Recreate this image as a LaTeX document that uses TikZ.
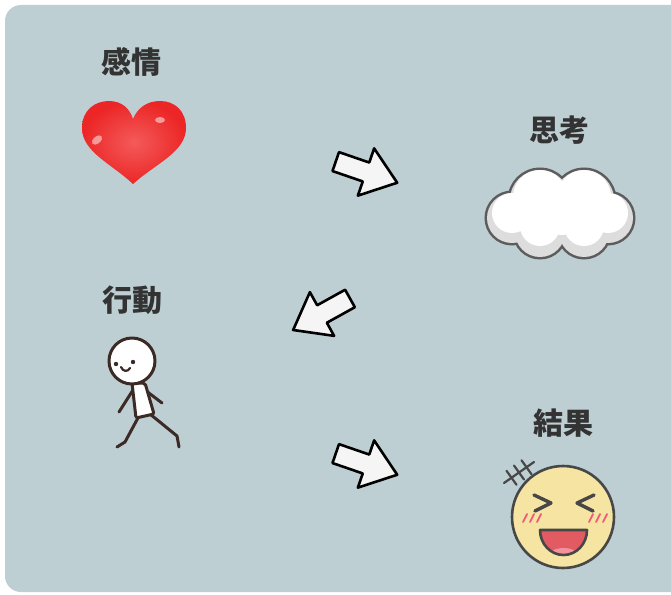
\documentclass[tikz,border=0pt]{standalone}
\usepackage{fontspec}
\newfontfamily\cjk{Noto Sans CJK JP}
\usetikzlibrary{positioning, calc}

\definecolor{panel}{HTML}{BDCFD3}
\definecolor{ink}{HTML}{333333}
\definecolor{heartred}{HTML}{EC2626}
\definecolor{heartlight}{HTML}{F45A5A}
\definecolor{cloudline}{HTML}{5C5C5C}
\definecolor{cloudshade}{HTML}{DDDDDD}
\definecolor{figline}{HTML}{3B2A26}
\definecolor{faceyellow}{HTML}{F6E5A2}
\definecolor{faceline}{HTML}{474747}
\definecolor{blush}{HTML}{EE5A78}
\definecolor{mouthred}{HTML}{E25B62}
\definecolor{tongue}{HTML}{F2939B}

\begin{document}
\begin{tikzpicture}[x=1pt, y=-1pt]
   \tikzstyle{titletext} = [font=\cjk\bfseries\fontsize{30}{30}\selectfont, text=ink, inner sep=0pt]
   \tikzstyle{blockarrow} = [draw=black, line width=2.6pt, fill=white!96!black, line join=round]
   \tikzstyle{stickline} = [draw=figline, line width=3pt, line cap=round, line join=round]
   \tikzstyle{faceedge} = [draw=faceline, line width=2.6pt, line cap=round, line join=round]

   \useasboundingbox (0,0) rectangle (671,594);
   \fill[white] (0,0) rectangle (671,594);
   \fill[panel, rounded corners=16pt] (5,5) rectangle (700,592);

   % titles
   \foreach \name/\txt/\x/\y in {feel/感情/131/62, think/思考/559/130, act/行動/132/300, result/結果/563/423}
   {
      \node[titletext] (\name) at (\x,\y) {\txt};
   }

   % heart
   \shade[inner color=heartlight, outer color=heartred]
      (133,184) .. controls (112,164) and (82,152) .. (82,128)
      .. controls (82,110) and (95,101) .. (109,101)
      .. controls (122,101) and (130,109) .. (133,119)
      .. controls (137,109) and (146,101) .. (160,101)
      .. controls (175,101) and (186,111) .. (186,128)
      .. controls (186,152) and (155,164) .. (133,184) -- cycle;
   \fill[white, opacity=0.5, rotate around={40:(97,140)}] (97,140) ellipse (6pt and 3.5pt);
   \fill[white, opacity=0.5] (160,120) ellipse (5pt and 3pt);

   % cloud
   \def\cloudparts{(540,200) circle (30pt) (584,200) circle (30pt) (512,218) circle (25pt)
      (608,218) circle (25pt) (540,232) circle (25pt) (584,232) circle (25pt) (562,215) circle (28pt)}
   \draw[cloudline, line width=5pt] \cloudparts;
   \fill[cloudshade] \cloudparts;
   \fill[white] (540,197) circle (27pt) (584,197) circle (27pt) (512,213) circle (20pt)
      (608,213) circle (20pt) (540,226) circle (20pt) (584,226) circle (20pt) (562,210) circle (25pt);

   % block arrows
   \foreach \x/\y/\ang in {366/172/-19, 322/314/209, 366/464/-19}
   {
      \draw[blockarrow, shift={(\x,\y)}, rotate=\ang]
         (-32,10) -- (0,10) -- (0,25) -- (33,0) -- (0,-25) -- (0,-10) -- (-32,-10) -- cycle;
   }

   % walking figure
   \draw[stickline] (133,390) -- (119,412);
   \draw[stickline] (145,390) -- (162,403);
   \draw[stickline] (139,416) -- (125,442) -- (117,447);
   \draw[stickline] (150,414) -- (177,436) -- (179,447);
   \draw[stickline, fill=white, rounded corners=2pt] (132,383) -- (136,418) -- (154,414) -- (145,383) -- cycle;
   \draw[stickline, fill=white] (132,361) circle (23pt);
   \fill[figline] (116,364) circle (2.2pt) (133,362) circle (2.2pt);
   \draw[stickline, line width=2.2pt] (121,367) .. controls (123,372) and (128,372) .. (130,368);

   % laughing face
   \draw[faceedge, line width=2.2pt] (504,483) -- (534,462);
   \foreach \t in {0.25, 0.5, 0.75}
   {
      \draw[faceedge, line width=2.2pt] ($(504,483)!\t!(534,462) + (-5,-7)$) -- ($(504,483)!\t!(534,462) + (5,7)$);
   }
   \draw[faceedge, fill=faceyellow] (563,517) circle (51pt);
   \draw[faceedge, line width=3.4pt] (534,495) -- (551,503) -- (535,511);
   \draw[faceedge, line width=3.4pt] (594,495) -- (577,503) -- (593,511);
   \foreach \dx in {0, 7, 14}
   {
      \draw[blush, line width=1.8pt, line cap=round] (523+\dx,522) -- (527+\dx,514);
      \draw[blush, line width=1.8pt, line cap=round] (589+\dx,522) -- (593+\dx,514);
   }
   \begin{scope}
      \clip (540,530) -- (587,530) arc[start angle=0, end angle=-180, x radius=23.5pt, y radius=25pt] -- cycle;
      \fill[mouthred] (535,525) rectangle (592,560);
      \fill[tongue] (563.5,556) ellipse (15pt and 8pt);
   \end{scope}
   \draw[faceedge] (540,530) -- (587,530) arc[start angle=0, end angle=-180, x radius=23.5pt, y radius=25pt] -- cycle;
\end{tikzpicture}
\end{document}
